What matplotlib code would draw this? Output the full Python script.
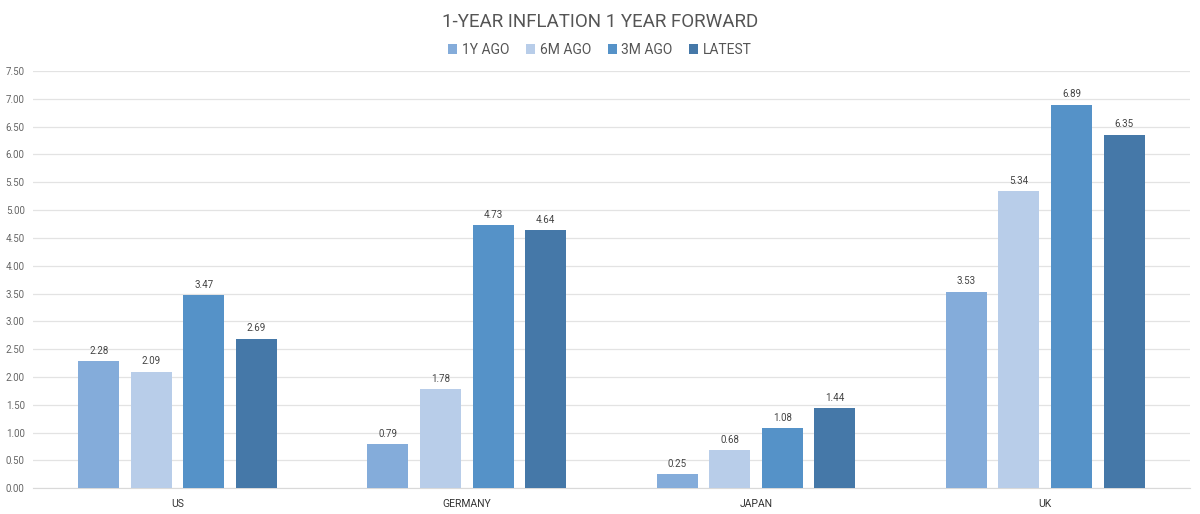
import numpy as np
import matplotlib.pyplot as plt

countries = ["US", "GERMANY", "JAPAN", "UK"]
series = ["1Y AGO", "6M AGO", "3M AGO", "LATEST"]
ago_1y = [2.28, 0.79, 0.25, 3.53]
ago_6m = [2.09, 1.78, 0.68, 5.34]
ago_3m = [3.47, 4.73, 1.08, 6.89]
latest = [2.69, 4.64, 1.44, 6.35]
colors = ["#84acda", "#b8cde9", "#5592c8", "#4578a8"]

plt.rcParams['font.family'] = ['Roboto', 'DejaVu Sans']

fig = plt.figure(figsize=(12, 5.14), dpi=100)
ax = fig.add_axes([0.0275, 0.05, 0.964, 0.812])

x = np.arange(len(countries))
step = 0.182
width = 0.142
for i, (vals, name) in enumerate(zip([ago_1y, ago_6m, ago_3m, latest], series)):
    pos = x + (i - 1.5) * step
    ax.bar(pos, vals, width, color=colors[i], label=name, zorder=3)
    for p, v in zip(pos, vals):
        ax.text(p, v + 0.1, f"{v:.2f}", ha="center", va="bottom",
                fontsize=7, color="#444444")

ax.set_xlim(-0.5, 3.5)
ax.set_ylim(0, 7.5)
ax.set_yticks(np.arange(0, 7.51, 0.5))
ax.set_yticklabels([f"{v:.2f}" for v in np.arange(0, 7.51, 0.5)])
ax.set_xticks(x)
ax.set_xticklabels(countries)
ax.tick_params(axis="y", length=0, labelsize=7, colors="#666666", pad=6)
ax.tick_params(axis="x", length=0, labelsize=7.5, colors="#333333", pad=8)
ax.grid(axis="y", color="#e3e3e3", linewidth=0.9, zorder=0)
for s in ["top", "right", "left"]:
    ax.spines[s].set_visible(False)
ax.spines["bottom"].set_color("#d9d9d9")

fig.text(0.5, 0.958, "1-YEAR INFLATION 1 YEAR FORWARD", ha="center", va="center",
         fontsize=13.5, color="#555555")
fig.legend(loc="center", bbox_to_anchor=(0.5, 0.903), ncol=4, frameon=False,
           fontsize=10, handlelength=0.65, handleheight=0.65, handletextpad=0.35,
           columnspacing=1.2, labelcolor="#555555")

fig.savefig("out.png", dpi=100)
